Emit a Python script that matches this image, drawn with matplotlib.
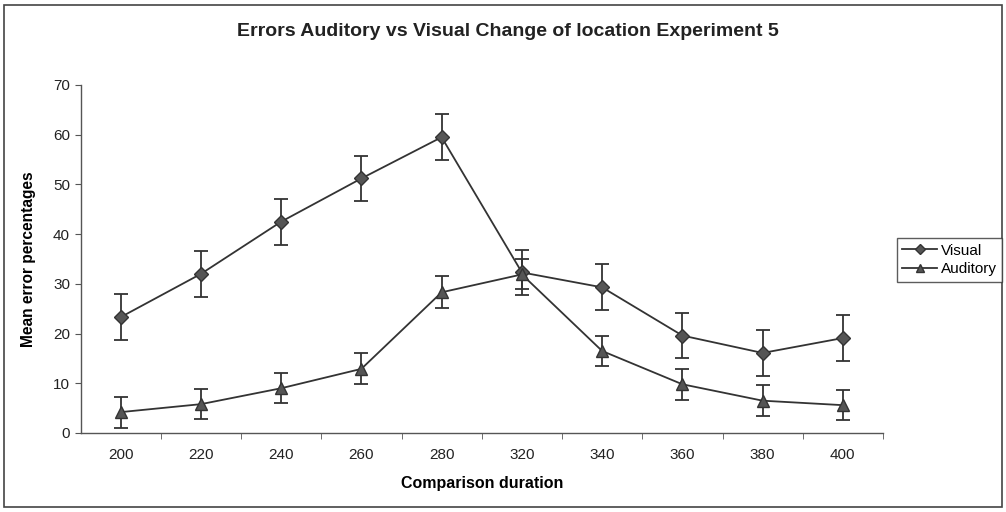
import matplotlib
matplotlib.use("Agg")
import matplotlib.pyplot as plt
from matplotlib.patches import Rectangle
from matplotlib.lines import Line2D

matplotlib.rcParams['font.family'] = ['Liberation Sans', 'DejaVu Sans']

durations = ['200', '220', '240', '260', '280', '320', '340', '360', '380', '400']

visual = [23.3, 32.0, 42.5, 51.2, 59.5, 32.3, 29.3, 19.6, 16.1, 19.1]
visual_err = [4.6, 4.6, 4.6, 4.6, 4.6, 4.6, 4.6, 4.6, 4.6, 4.6]

auditory = [4.2, 5.8, 9.0, 12.9, 28.3, 31.9, 16.5, 9.8, 6.5, 5.6]
auditory_err = [3.1, 3.0, 3.0, 3.1, 3.2, 3.0, 3.1, 3.1, 3.1, 3.0]

fig = plt.figure(figsize=(10.06, 5.12), dpi=100)
ax = fig.add_axes([80.5 / 1006, 1 - 433 / 512, (883 - 80.5) / 1006, (433 - 85) / 512])

x = list(range(len(durations)))
line_col = '#333333'
face_col = '#555555'

ax.errorbar(x, visual, yerr=visual_err, color=line_col, marker='D', markersize=7,
            markerfacecolor=face_col, markeredgecolor=line_col, linewidth=1.3,
            elinewidth=1.3, capsize=5, capthick=1.3)
ax.errorbar(x, auditory, yerr=auditory_err, color=line_col, marker='^', markersize=8,
            markerfacecolor=face_col, markeredgecolor=line_col, linewidth=1.3,
            elinewidth=1.3, capsize=5, capthick=1.3)

ax.set_xlim(-0.5, len(durations) - 0.5)
ax.set_ylim(0, 70)
ax.set_yticks(range(0, 71, 10))
ax.set_xticks(x)
ax.set_xticklabels(durations)
ax.set_xticks([i + 0.5 for i in x], minor=True)
ax.tick_params(axis='x', which='major', length=0, pad=11, labelsize=11, colors='#222222')
ax.tick_params(axis='x', which='minor', length=4, direction='out', color='#555555')
ax.tick_params(axis='y', length=4, direction='out', labelsize=11, colors='#222222', color='#555555')

for side in ['top', 'right']:
    ax.spines[side].set_visible(False)
for side in ['left', 'bottom']:
    ax.spines[side].set_color('#555555')
    ax.spines[side].set_linewidth(1.0)

ax.set_xlabel('Comparison duration', fontsize=11.5, fontweight='bold', labelpad=10)
ax.set_ylabel('Mean error percentages', fontsize=11.2, fontweight='bold', labelpad=12)
fig.text(0.505, 0.938, 'Errors Auditory vs Visual Change of location Experiment 5',
         ha='center', va='center', fontsize=14, fontweight='bold', color='#222222')

handles = [Line2D([], [], color=line_col, marker='D', markersize=5,
                  markerfacecolor=face_col, markeredgecolor=line_col, linewidth=1.3),
           Line2D([], [], color=line_col, marker='^', markersize=6,
                  markerfacecolor=face_col, markeredgecolor=line_col, linewidth=1.3)]
leg = fig.legend(handles, ['Visual', 'Auditory'], loc='center left',
                 bbox_to_anchor=(897 / 1006, 1 - 260 / 512), frameon=True, fancybox=False,
                 fontsize=11, handlelength=2.3, handletextpad=0.2, borderpad=0.35,
                 labelspacing=0.3, borderaxespad=0)
leg.get_frame().set_edgecolor('#333333')
leg.get_frame().set_linewidth(1.0)

fig.patches.append(Rectangle((0.004, 0.01), 0.992, 0.98, transform=fig.transFigure,
                             fill=False, edgecolor='#444444', linewidth=1.2))

fig.savefig('out.png', dpi=100)
